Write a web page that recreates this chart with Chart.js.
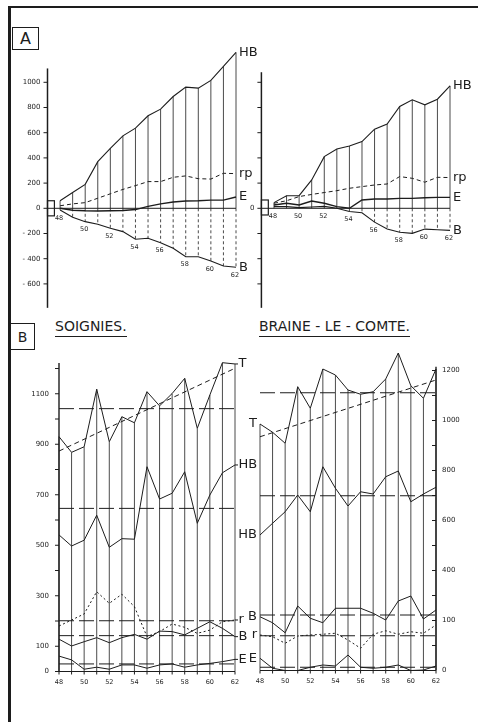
<!DOCTYPE html>
<html lang="fr">
<head>
<meta charset="utf-8">
<title>Soignies - Braine-le-Comte</title>
<script src="https://cdn.jsdelivr.net/npm/chart.js@4.4.1/dist/chart.umd.min.js"></script>
<style>
  html, body { margin: 0; padding: 0; background: #fff; }
  #page { position: relative; width: 478px; height: 722px; overflow: hidden; background: #fff;
          font-family: 'DejaVu Sans', sans-serif; color: #1d1d1d; }
  #page canvas { position: absolute; left: 0; top: 0; }
  .rule { position: absolute; background: #1d1d1d; }
  .tag { position: absolute; box-sizing: border-box; border: 1.5px solid #1d1d1d;
         display: flex; align-items: center; justify-content: center; line-height: 1; }
  .title { position: absolute; font-size: 14px; line-height: 14px; white-space: nowrap;
           padding-bottom: 3px; border-bottom: 1.5px solid #1d1d1d; }
</style>
</head>
<body>
<div id="page">
  <div class="rule" style="left:9px;top:6px;width:469px;height:2px"></div>
  <div class="rule" style="left:8px;top:6px;width:3px;height:716px"></div>
  <div class="tag" style="left:12px;top:27px;width:27px;height:23px;font-size:16px">A</div>
  <div class="tag" style="left:10px;top:323px;width:25px;height:27px;font-size:14px">B</div>
  <div class="title" style="left:55px;top:319px">SOIGNIES.</div>
  <div class="title" style="left:259px;top:319px">BRAINE - LE - COMTE.</div>
  <canvas id="aLeft" width="478" height="722"></canvas>
  <canvas id="aRight" width="478" height="722"></canvas>
  <canvas id="bLeft" width="478" height="722"></canvas>
  <canvas id="bRight" width="478" height="722"></canvas>
</div>
<script>
const INK = '#1d1d1d';

// years 1948 - 1962
const years = [48, 49, 50, 51, 52, 53, 54, 55, 56, 57, 58, 59, 60, 61, 62];
const yearLabels = ['48', '50', '52', '54', '56', '58', '60', '62'];
const labelYears = [48, 50, 52, 54, 56, 58, 60, 62];

// --- A : cumulative curves
const soigHB = [60, 125, 190, 370, 475, 575, 636, 734, 787, 887, 962, 954, 1015, 1126, 1237];
const soigRp = [20, 35, 45, 80, 115, 150, 180, 212, 212, 246, 257, 235, 232, 278, 275];
const soigE = [0, -15, -20, -22, -20, -18, -10, 15, 35, 50, 58, 60, 65, 65, 90];
const soigB = [-13, -71, -106, -127, -159, -185, -246, -238, -273, -317, -384, -384, -418, -458, -468];

const braHB = [45, 100, 100, 225, 410, 471, 495, 530, 628, 668, 808, 861, 821, 866, 972];
const braRp = [40, 60, 93, 110, 125, 140, 159, 172, 185, 193, 252, 238, 207, 246, 244];
const braE = [26, 40, 26, 58, 40, 13, 0, 66, 74, 74, 79, 79, 84, 87, 87];
const braB = [13, 13, 5, 10, 15, 0, -25, -35, -110, -165, -190, -199, -165, -170, -175];

const aTicks = [1000, 800, 600, 400, 200, 0, -200, -400, -600];
const aTickLabels = ['1000', '800', '600', '400', '200', '0', '- 200', '- 400', '- 600'];
const aRightTickLabels = ['', '', '', '', '', '0', '', '', ''];

// --- B : yearly values
const soigT = [930, 868, 890, 1118, 910, 1009, 985, 1108, 1052, 1101, 1161, 963, 1095, 1223, 1218];
const soigHBy = [541, 497, 520, 619, 492, 526, 524, 811, 683, 706, 791, 587, 699, 787, 818];
const soigR = [180, 204, 228, 316, 270, 306, 257, 138, 158, 188, 175, 151, 164, 197, 204];
const soigBy = [128, 101, 118, 134, 114, 134, 147, 128, 160, 158, 145, 171, 197, 171, 138];
const soigEy = [61, 46, 9, 17, 9, 26, 26, 13, 26, 30, 17, 26, 32, 39, 48];
const soigMeans = [1041, 646, 201, 142, 30];   // T, HB, r, B, E
const soigTrend = [873, 1201];

const braT = [986, 953, 909, 1135, 1049, 1206, 1182, 1122, 1105, 1115, 1166, 1270, 1139, 1089, 1206];
const braHBy = [542, 589, 635, 702, 635, 815, 729, 658, 715, 706, 775, 798, 675, 706, 733];
const braR = [142, 135, 109, 138, 142, 145, 149, 122, 89, 145, 159, 145, 155, 149, 182];
const braBy = [215, 191, 151, 258, 209, 191, 249, 249, 249, 229, 202, 278, 298, 206, 242];
const braEy = [49, 9, 0, 0, 13, 22, 18, 62, 13, 9, 13, 22, 0, 2, 18];
const braMeans = [1111, 699, 139, 222, 13];
const braTrend = [935, 1162];
const trendYears = [48, 62];

const bLeftTicks = [0, 100, 300, 500, 700, 900, 1100];
const bLeftTickLabels = ['0', '100', '300', '500', '700', '900', '1100'];
const bRightTicks = [0, 200, 400, 600, 800, 1000, 1200];
const bRightTickLabels = ['0', '100', '400', '600', '800', '1000', '1200'];
const bMinorTicks = [0, 100, 200, 300, 400, 500, 600, 700, 800, 900, 1000, 1100, 1200];


// small drawing helpers ------------------------------------------------
function seg(ctx, x1, y1, x2, y2, w, dash) {
    ctx.save();
    ctx.strokeStyle = INK;
    ctx.lineWidth = w || 1;
    ctx.setLineDash(dash || []);
    ctx.beginPath();
    ctx.moveTo(x1, y1);
    ctx.lineTo(x2, y2);
    ctx.stroke();
    ctx.restore();
}

function label(ctx, s, x, y, size, align) {
    ctx.save();
    ctx.fillStyle = INK;
    ctx.font = size + 'px "DejaVu Sans", sans-serif';
    ctx.textAlign = align || 'left';
    ctx.textBaseline = 'middle';
    ctx.fillText(s, x, y);
    ctx.restore();
}

function series(values, width, dash) {
    return {
        data: years.map((x, i) => ({ x: x, y: values[i] })),
        borderColor: INK, borderWidth: width, borderDash: dash || [],
        pointRadius: 0, tension: 0, fill: false, clip: false
    };
}

function flat(xs, values, width, dash) {
    return {
        data: xs.map((x, i) => ({ x: x, y: values[i] })),
        borderColor: INK, borderWidth: width, borderDash: dash || [],
        pointRadius: 0, tension: 0, fill: false, clip: false
    };
}

function buildChart(id, pad, xr, yr, datasets, deco) {
    return new Chart(document.getElementById(id), {
        type: 'line',
        data: { datasets: datasets },
        options: {
            responsive: false,
            animation: false,
            layout: { padding: pad },
            scales: {
                x: { type: 'linear', min: xr[0], max: xr[1], display: false },
                y: { type: 'linear', min: yr[0], max: yr[1], display: false }
            },
            plugins: { legend: { display: false }, tooltip: { enabled: false } }
        },
        plugins: [{
            id: 'deco' + id,
            beforeDatasetsDraw: (c) => deco(c, 'under'),
            afterDatasetsDraw: (c) => deco(c, 'over')
        }]
    });
}


// A : cumulative panels ---------------------------------------------------
function cumulativeDeco(hb, b, ends, tickLabels, axisRange, boxY) {
    return function (c, phase) {
        const ctx = c.ctx;
        const X = v => c.scales.x.getPixelForValue(v);
        const Y = v => c.scales.y.getPixelForValue(v);
        if (phase === 'under') {
            years.forEach((yr, i) => {
                seg(ctx, X(yr), Y(0), X(yr), Y(Math.max(hb[i], 0)), 0.8);
                if (b[i] < 0) seg(ctx, X(yr), Y(0), X(yr), Y(b[i]), 0.8, [3, 2.5]);
            });
            seg(ctx, X(47), Y(axisRange[0]), X(47), Y(axisRange[1]), 1.5);
            seg(ctx, X(47), Y(0), X(62), Y(0), 1);
            aTicks.forEach((t, i) => {
                seg(ctx, X(47) - 4, Y(t), X(47), Y(t), 1);
                if (tickLabels[i]) label(ctx, tickLabels[i], X(47) - 7, Y(t), 7, 'right');
            });
            ctx.save();
            ctx.strokeStyle = INK;
            ctx.lineWidth = 1.2;
            ctx.strokeRect(X(47), Y(boxY[1]), X(47.55) - X(47), Y(boxY[0]) - Y(boxY[1]));
            ctx.restore();
        } else {
            ends.forEach(e => label(ctx, e[0], X(62) + 3, Y(e[1]), 13, 'left'));
            labelYears.forEach((yr, i) => {
                const low = Math.min(b[years.indexOf(yr)], 0);
                label(ctx, yearLabels[i], X(yr) - 1, Y(low) + 8, 6.5, 'center');
            });
        }
    };
}

buildChart('aLeft',
    { left: 47.5, right: 242, top: 44.5, bottom: 412.9 }, [47, 62], [-800, 1300],
    [series(soigHB, 1.1), series(soigRp, 1, [4, 3]), series(soigE, 1.4), series(soigB, 1.1)],
    cumulativeDeco(soigHB, soigB,
        [['HB', soigHB[14]], ['rp', soigRp[14]], ['E', soigE[14]], ['B', soigB[14]]],
        aTickLabels, [1110, -790], [-60, 60]));

buildChart('aRight',
    { left: 261.4, right: 28, top: 44.5, bottom: 412.9 }, [47, 62], [-800, 1300],
    [series(braHB, 1.1), series(braRp, 1, [4, 3]), series(braE, 1.4), series(braB, 1.1)],
    cumulativeDeco(braHB, braB,
        [['HB', braHB[14]], ['rp', braRp[14]], ['E', braE[14]], ['B', braB[14]]],
        aRightTickLabels, [1080, -790], [-53, 66]));


// B : yearly panels ------------------------------------------------------
function annualDeco(t, side, axisTop, ticks, tickLabels, ends) {
    return function (c, phase) {
        const ctx = c.ctx;
        const X = v => c.scales.x.getPixelForValue(v);
        const Y = v => c.scales.y.getPixelForValue(v);
        const axisX = side === 'left' ? X(48) : X(62);
        if (phase === 'under') {
            years.forEach((yr, i) => seg(ctx, X(yr), Y(0), X(yr), Y(t[i]), 0.8));
            seg(ctx, axisX, Y(axisTop), axisX, Y(0), 1.4);
            bMinorTicks.forEach(v => seg(ctx, axisX - 4, Y(v), axisX, Y(v), 1));
            ticks.forEach((v, i) => {
                if (side === 'left') label(ctx, tickLabels[i], axisX - 10, Y(v), 7, 'right');
                else label(ctx, tickLabels[i], axisX + 6, Y(v), 7, 'left');
            });
            seg(ctx, X(48), Y(0), X(62), Y(0), 1.1);
            years.forEach(yr => seg(ctx, X(yr), Y(0), X(yr), Y(0) + 3, 1));
            labelYears.forEach((yr, i) => label(ctx, yearLabels[i], X(yr), Y(0) + 11, 6.5, 'center'));
        } else {
            ends.forEach(e => {
                if (side === 'left') {
                    seg(ctx, X(62), Y(e[1]), X(62) + 3, Y(e[1]), 1);
                    label(ctx, e[0], X(62) + 3.5, Y(e[1]), 13, 'left');
                } else {
                    label(ctx, e[0], X(48) - 3, Y(e[1]), 13, 'right');
                }
            });
        }
    };
}

function annualSets(t, trend, hb, r, b, e, means) {
    const meanDash = [15, 5];
    return [
        series(t, 1),
        flat(trendYears, trend, 1, [5, 3.5]),
        flat(trendYears, [means[0], means[0]], 1, meanDash),
        series(hb, 1),
        flat(trendYears, [means[1], means[1]], 1, meanDash),
        series(r, 1, [2, 2.5]),
        flat(trendYears, [means[2], means[2]], 1, meanDash),
        series(b, 1),
        flat(trendYears, [means[3], means[3]], 1, meanDash),
        series(e, 1),
        flat(trendYears, [means[4], means[4]], 1, meanDash)
    ];
}

buildChart('bLeft',
    { left: 59, right: 243, top: 343.25, bottom: 40.4 }, [48, 62], [-40, 1300],
    annualSets(soigT, soigTrend, soigHBy, soigR, soigBy, soigEy, soigMeans),
    annualDeco(soigT, 'left', 1222, bLeftTicks, bLeftTickLabels,
        [['T', soigT[14]], ['HB', soigHBy[14]], ['r', soigR[14]], ['B', soigBy[14]], ['E', soigEy[14]]]));

buildChart('bRight',
    { left: 260, right: 42, top: 345.5, bottom: 41.5 }, [48, 62], [-40, 1300],
    annualSets(braT, braTrend, braHBy, braR, braBy, braEy, braMeans),
    annualDeco(braT, 'right', 1215, bRightTicks, bRightTickLabels,
        [['T', braT[0]], ['HB', braHBy[0]], ['B', braBy[0]], ['r', braR[0]], ['E', braEy[0]]]));
</script>
</body>
</html>
